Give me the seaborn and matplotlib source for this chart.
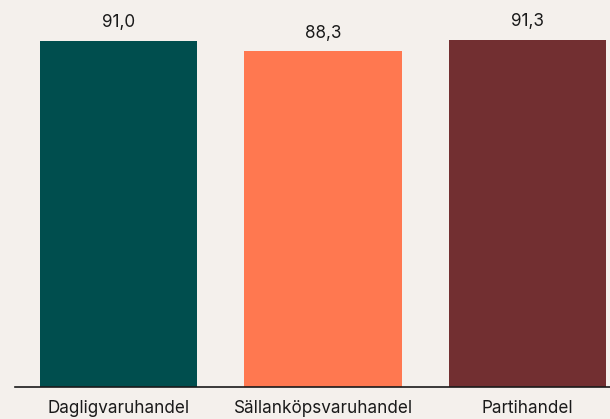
import pandas as pd
import matplotlib.pyplot as plt
import seaborn as sns

# Data
categories = ["Dagligvaruhandel", "Sällanköpsvaruhandel", "Partihandel"]
values = [91.0, 88.3, 91.3]
colors = ["#004e4e", "#ff7850", "#722f31"]

bg = "#f4f0ec"
sns.set_theme(style="white")
plt.rcParams['font.family'] = ['Inter', 'DejaVu Sans']

df = pd.DataFrame({"kategori": categories, "varde": values})

fig = plt.figure(figsize=(6.10, 4.19), dpi=100, facecolor=bg)
ax = fig.add_axes([15 / 610, 32 / 419, 595 / 610, 387 / 419])
ax.set_facecolor(bg)

sns.barplot(data=df, x="kategori", y="varde", hue="kategori",
            palette=colors, width=0.77, legend=False, ax=ax,
            saturation=1, linewidth=0)

# Value labels
for i, v in enumerate(values):
    ax.annotate(f"{v:.1f}".replace(".", ","), (i, v), xytext=(0, 7),
                textcoords="offset points", ha="center", va="bottom",
                fontsize=12.3, color="#1a1a1a")

ax.set_xlim(-0.506, 2.403)
ax.set_ylim(0, 101.8)
ax.set_xlabel("")
ax.set_ylabel("")
ax.set_yticks([])
ax.tick_params(axis="x", length=0, pad=9, labelsize=12.3, labelcolor="#1a1a1a")
for s in ["top", "right", "left"]:
    ax.spines[s].set_visible(False)
ax.spines["bottom"].set_color("#1a1a1a")
ax.spines["bottom"].set_linewidth(1.2)

fig.savefig("out.png", dpi=100, facecolor=bg)
